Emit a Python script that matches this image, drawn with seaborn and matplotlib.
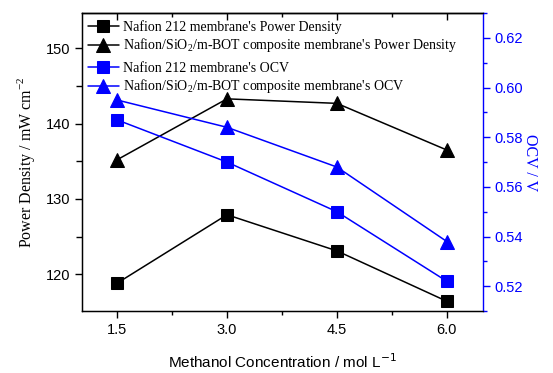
import matplotlib
matplotlib.use("Agg")
import matplotlib.pyplot as plt
import seaborn as sns
from matplotlib.ticker import MultipleLocator, FormatStrFormatter

# data
conc = [1.5, 3.0, 4.5, 6.0]
pd_nafion = [118.8, 127.9, 123.1, 116.4]
pd_composite = [135.2, 143.3, 142.7, 136.5]
ocv_nafion = [0.587, 0.570, 0.550, 0.522]
ocv_composite = [0.595, 0.584, 0.568, 0.538]

labels = [
    "Nafion 212 membrane's Power Density",
    "Nafion/SiO$_2$/m-BOT composite membrane's Power Density",
    "Nafion 212 membrane's OCV",
    "Nafion/SiO$_2$/m-BOT composite membrane's OCV",
]

sns.set_style("ticks")
plt.rcParams['font.family'] = ['Liberation Sans', 'DejaVu Sans']
plt.rcParams['mathtext.fontset'] = 'custom'
plt.rcParams['mathtext.rm'] = 'Liberation Serif'
plt.rcParams['text.color'] = 'black'
plt.rcParams['axes.labelcolor'] = 'black'
plt.rcParams['xtick.color'] = 'black'
plt.rcParams['ytick.color'] = 'black'
plt.rcParams['axes.edgecolor'] = 'black'

serif = ['Liberation Serif', 'DejaVu Serif']
blue = '#0000ff'

fig, ax = plt.subplots(figsize=(5.53, 3.73), dpi=100)
fig.subplots_adjust(left=0.148, right=0.873, top=0.965, bottom=0.166)
ax2 = ax.twinx()

sns.lineplot(x=conc, y=pd_nafion, ax=ax, color='black', marker='s', markersize=8,
             markeredgecolor='black', linewidth=1.1, label=labels[0])
sns.lineplot(x=conc, y=pd_composite, ax=ax, color='black', marker='^', markersize=9.5,
             markeredgecolor='black', linewidth=1.1, label=labels[1])
sns.lineplot(x=conc, y=ocv_nafion, ax=ax2, color=blue, marker='s', markersize=8,
             markeredgecolor=blue, linewidth=1.1, label=labels[2])
sns.lineplot(x=conc, y=ocv_composite, ax=ax2, color=blue, marker='^', markersize=9.5,
             markeredgecolor=blue, linewidth=1.1, label=labels[3])

ax.set_xlim(1.02, 6.49)
ax.set_ylim(115.1, 154.7)
ax2.set_ylim(0.51, 0.63)

ax.xaxis.set_major_locator(MultipleLocator(1.5))
ax.xaxis.set_minor_locator(MultipleLocator(0.75))
ax.yaxis.set_major_locator(MultipleLocator(10))
ax.yaxis.set_minor_locator(MultipleLocator(5))
ax2.yaxis.set_major_locator(MultipleLocator(0.02))
ax2.yaxis.set_minor_locator(MultipleLocator(0.01))
ax.xaxis.set_major_formatter(FormatStrFormatter('%.1f'))
ax2.yaxis.set_major_formatter(FormatStrFormatter('%.2f'))

ax.tick_params(axis='both', which='major', direction='out', length=5, width=1, labelsize=10.5)
ax.tick_params(axis='both', which='minor', direction='out', length=3, width=1)
ax.tick_params(axis='y', which='minor', length=4.5)
ax2.tick_params(axis='y', which='major', direction='out', length=5, width=1,
                colors=blue, labelsize=10.5)
ax2.tick_params(axis='y', which='minor', direction='out', length=3, width=1, colors=blue)

top = ax.secondary_xaxis('top')
top.xaxis.set_major_locator(MultipleLocator(1.5))
top.xaxis.set_minor_locator(MultipleLocator(0.75))
top.tick_params(which='major', direction='in', length=5, width=1, labeltop=False)
top.tick_params(which='minor', direction='in', length=3, width=1)

for s in ['left', 'top', 'bottom']:
    ax.spines[s].set_linewidth(1)
ax2.spines['right'].set_color(blue)
ax2.spines['right'].set_linewidth(1)
ax.spines['right'].set_visible(False)
top.spines['top'].set_linewidth(1)

ax.set_xlabel('Methanol Concentration / mol L$^{-1}$', fontsize=11, labelpad=11)
ax.xaxis.label.set_math_fontfamily('dejavusans')
ax.set_ylabel('Power Density / mW cm$^{-2}$', fontsize=11.5, family=serif, labelpad=6)
ax2.set_ylabel('OCV / V', fontsize=11.5, family=serif, color=blue, rotation=270, labelpad=11)

# two separate legends, like the reference: black pair on top, blue pair below
leg_kw = dict(loc='upper left', frameon=False, prop={'family': serif, 'size': 10},
              handlelength=2.2, handletextpad=0.3, labelspacing=0.2, borderaxespad=0.2,
              labelcolor='black')
h1, l1 = ax.get_legend_handles_labels()
h2, l2 = ax2.get_legend_handles_labels()
ax.legend(h1, l1, bbox_to_anchor=(-0.005, 1.005), **leg_kw)
ax2.legend(h2, l2, bbox_to_anchor=(-0.005, 0.865), **leg_kw)

fig.savefig('out.png', dpi=100)
